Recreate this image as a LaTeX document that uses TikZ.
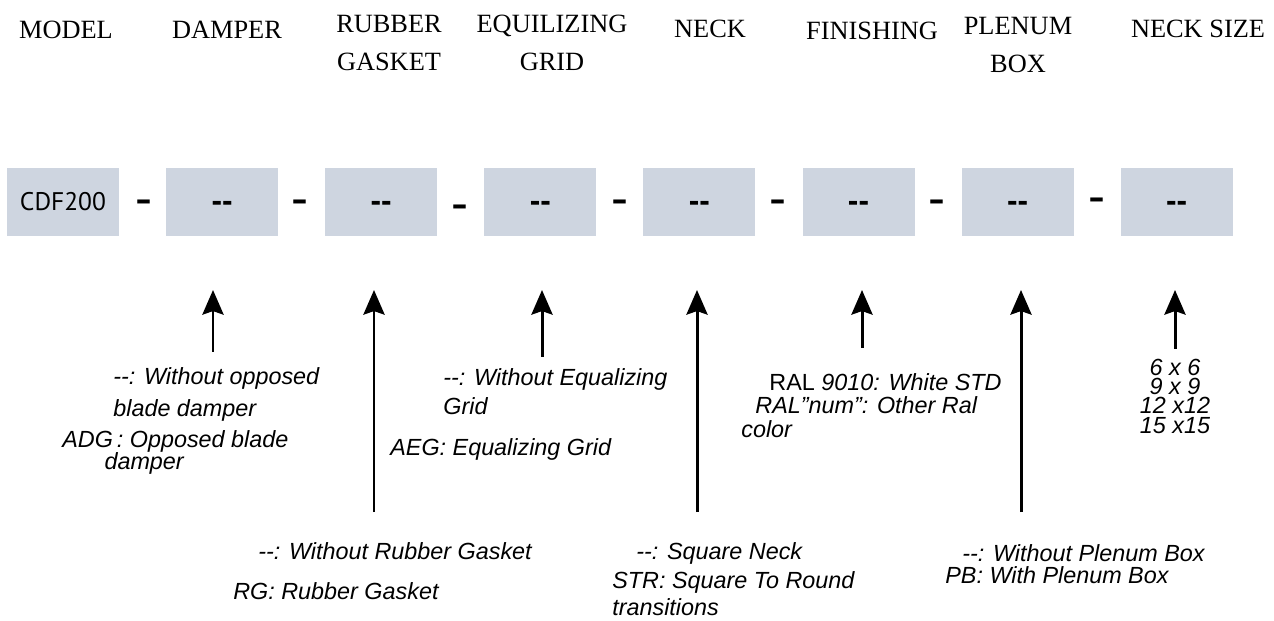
\documentclass[tikz,border=0pt]{standalone}
\usepackage{fontspec}
\setmainfont{Liberation Serif}
\setsansfont{Liberation Sans}
\newfontfamily\boxfont{PT Sans}
\usetikzlibrary{arrows.meta}
\definecolor{boxfill}{RGB}{206,213,224}
\newcommand\descfont[1]{\sffamily\itshape\fontsize{13.3}{#1}\selectfont}

\begin{document}
\begin{tikzpicture}[x=0.02cm, y=-0.02cm,
	head/.style={font=\fontsize{15}{22}\selectfont, align=center, inner sep=0pt},
	codebox/.style={fill=boxfill, minimum width=2.24cm, minimum height=1.36cm, inner sep=0pt, font=\sffamily\bfseries\fontsize{18}{18}\selectfont},
	joiner/.style={font=\sffamily\fontsize{29}{29}\selectfont, anchor=base, inner sep=0pt},
	desc/.style={font=\descfont{16}, align=left, anchor=base west, inner sep=0pt},
	>={Stealth[length=14pt, width=12pt, inset=2pt]}]
	\useasboundingbox (0,0) rectangle (1274,621);
	% headings
	\node[head] (hModel) at (66,30) {MODEL};
	\node[head] (hDamper) at (227,30) {DAMPER};
	\node[head] (hRubber) at (389,43) {RUBBER\\GASKET};
	\node[head] (hGrid) at (552,43) {EQUILIZING\\GRID};
	\node[head] (hNeck) at (710,29) {NECK};
	\node[head] (hFinish) at (872,31) {FINISHING};
	\node[head] (hPlenum) at (1018,45) {PLENUM\\BOX};
	\node[head] (hSize) at (1198,29) {NECK SIZE};
	% code boxes
	\node[codebox, font=\boxfont\fontsize{14.5}{14.5}\selectfont] (bModel) at (63,202) {CDF200};
	\foreach \nm [count=\i] in {bDamper,bRubber,bGrid,bNeck,bFinish,bPlenum,bSize}
		\node[codebox] (\nm) at (63+159.1*\i,202) {\smash{\raisebox{-5.4pt}{-{}-}}};
	\foreach \xx/\yy [count=\i] in {144/216,300/216,460/221,620/216,778/216,937/216,1097/214}
		\node[joiner] (j\i) at (\xx,\yy) {-};
	% arrows
	\foreach \nm/\xx/\yy in {Damper/213/352,Rubber/374/512,Grid/542/357,Neck/697/512,Finish/862/348,Plenum/1021/512,Size/1175/349} {
		\coordinate (s\nm) at (\xx,\yy);
		\coordinate (t\nm) at (\xx,290);
		\draw[->, line width=1.7pt] (s\nm) -- (t\nm);
	}
	% options
	\node[desc, font=\descfont{18}] (dDamperA) at (113,416) {-{}-: Without opposed\\blade damper};
	\node[desc, font=\descfont{12.5}] (dDamperB) at (62,469) {ADG\,: Opposed blade\\\hspace*{24pt}damper};
	\node[desc] (dGridA) at (443,414) {-{}-: Without Equalizing\\Grid};
	\node[desc] (dGridB) at (390,455) {AEG: Equalizing Grid};
	\node[desc, font=\descfont{13.3}] (dFinish) at (741,437) {\hspace*{16pt}{\upshape RAL} 9010: White STD\\\hspace*{8pt}RAL"num": Other Ral\\color};
	\node[desc, font=\descfont{11}, align=center, anchor=base] (dSize) at (1175,433) {6 x 6\\9 x 9\\12 x12\\15 x15};
	\node[desc] (dRubberA) at (258,559) {-{}-: Without Rubber Gasket};
	\node[desc] (dRubberB) at (233,599) {RG: Rubber Gasket};
	\node[desc] (dNeckA) at (636,559) {-{}-: Square Neck};
	\node[desc, font=\descfont{15.3}] (dNeckB) at (612,615) {STR: Square To Round\\transitions};
	\node[desc] (dPlenumA) at (962,561) {-{}-: Without Plenum Box};
	\node[desc] (dPlenumB) at (945,583) {PB: With Plenum Box};
\end{tikzpicture}
\end{document}
